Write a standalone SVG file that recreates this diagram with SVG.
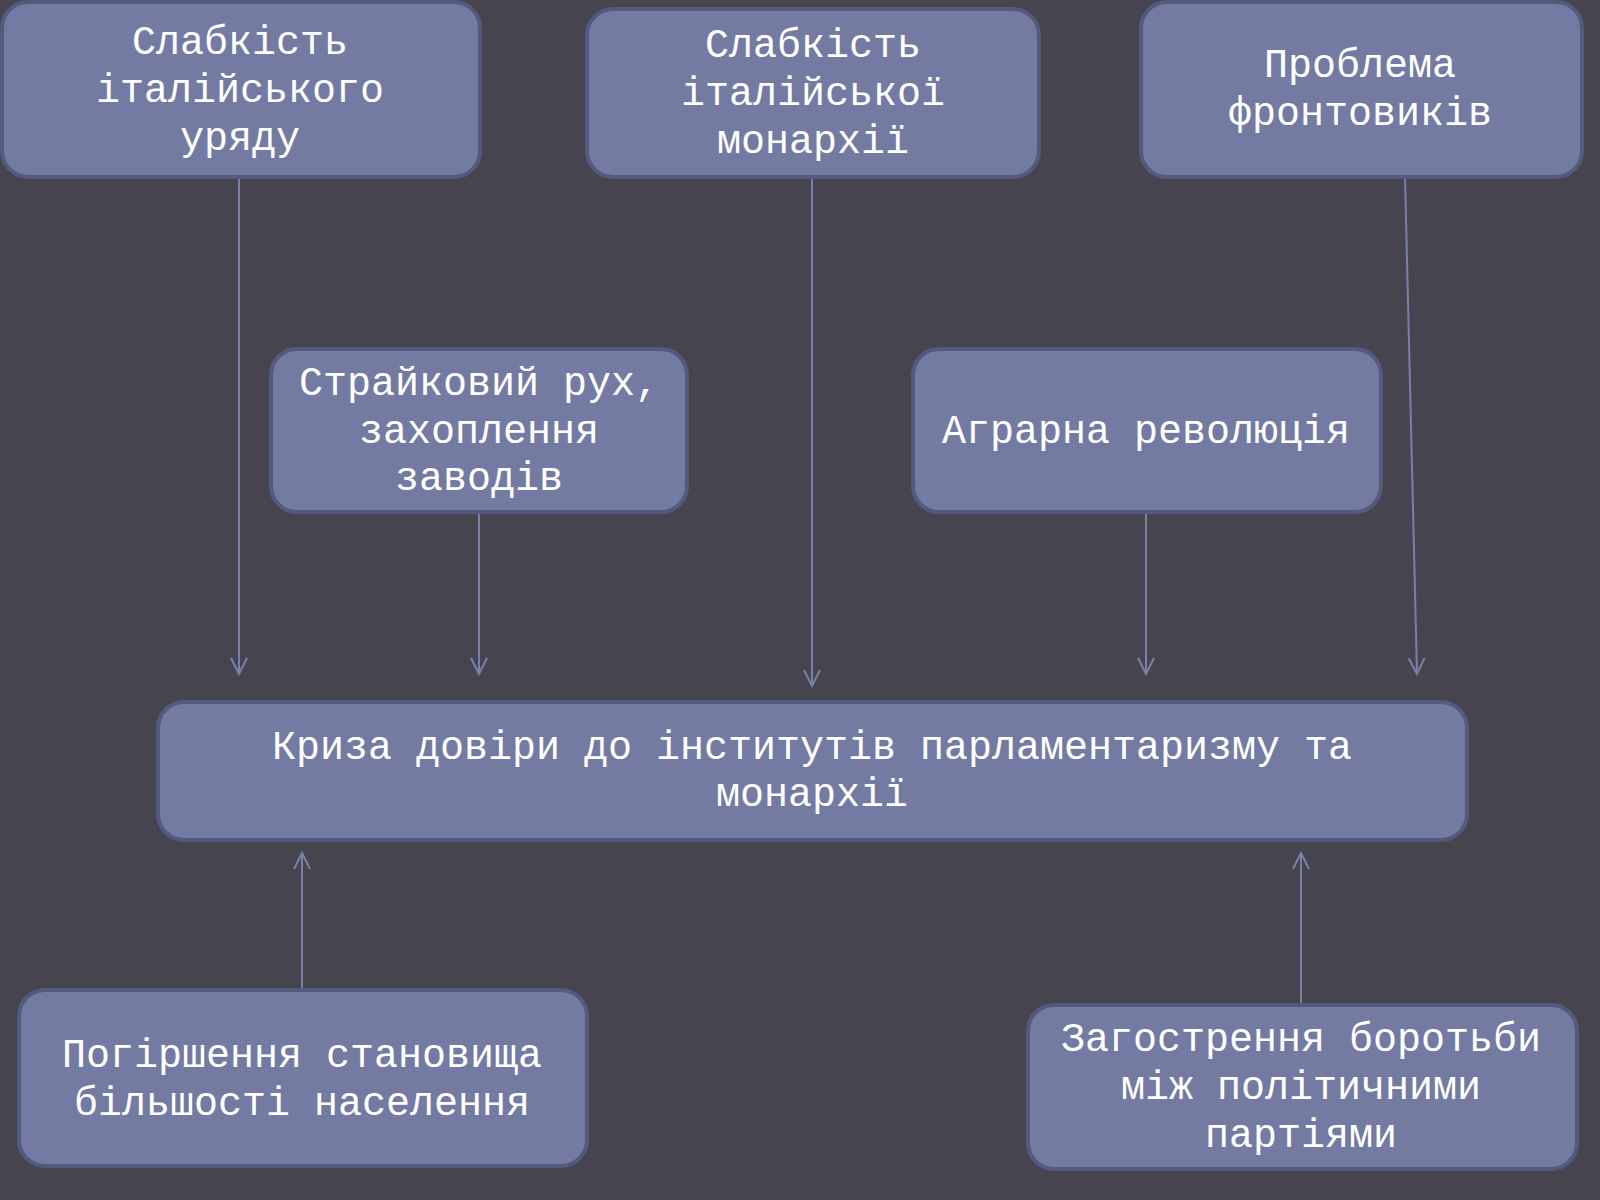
<svg xmlns="http://www.w3.org/2000/svg" width="1600" height="1200" viewBox="0 0 1600 1200">
<defs>
<style>
.box{fill:#737ba3;stroke:#535a7e;stroke-width:4}
.t{font-family:"Courier New","Liberation Mono","DejaVu Sans Mono",monospace;font-size:40px;fill:#ffffff;text-anchor:middle}
.c{stroke:#7880aa;stroke-width:2;fill:none}
</style>
<marker id="arr" viewBox="0 0 20 20" refX="18" refY="10" markerWidth="20" markerHeight="20" markerUnits="userSpaceOnUse" orient="auto">
<path d="M2,2 L18,10 L2,18" fill="none" stroke="#7880aa" stroke-width="2"/>
</marker>
</defs>
<rect width="1600" height="1200" fill="#46454f"/>
<g id="connectors">
<line class="c" x1="239" y1="177" x2="239" y2="674" marker-end="url(#arr)"/>
<line class="c" x1="479" y1="512" x2="479" y2="674" marker-end="url(#arr)"/>
<line class="c" x1="812" y1="177" x2="812" y2="686" marker-end="url(#arr)"/>
<line class="c" x1="1146" y1="512" x2="1146" y2="674" marker-end="url(#arr)"/>
<line class="c" x1="1405" y1="177" x2="1417" y2="674" marker-end="url(#arr)"/>
<line class="c" x1="302" y1="990" x2="302" y2="853" marker-end="url(#arr)"/>
<line class="c" x1="1301" y1="1005" x2="1301" y2="853" marker-end="url(#arr)"/>
</g>
<g id="n1">
<rect class="box" x="2" y="2" width="478" height="175" rx="26"/>
<text class="t" x="240" y="54">Слабкість</text>
<text class="t" x="240" y="102">італійського</text>
<text class="t" x="240" y="150">уряду</text>
</g>
<g id="n2">
<rect class="box" x="587" y="9" width="452" height="168" rx="26"/>
<text class="t" x="813" y="57">Слабкість</text>
<text class="t" x="813" y="105">італійської</text>
<text class="t" x="813" y="153">монархії</text>
</g>
<g id="n3">
<rect class="box" x="1141" y="2" width="441" height="175" rx="26"/>
<text class="t" x="1360" y="77">Проблема</text>
<text class="t" x="1360" y="125">фронтовиків</text>
</g>
<g id="n4">
<rect class="box" x="271" y="349" width="416" height="163" rx="26"/>
<text class="t" x="479" y="395">Страйковий рух,</text>
<text class="t" x="479" y="443">захоплення</text>
<text class="t" x="479" y="490">заводів</text>
</g>
<g id="n5">
<rect class="box" x="913" y="349" width="468" height="163" rx="26"/>
<text class="t" x="1146" y="443">Аграрна революція</text>
</g>
<g id="n6">
<rect class="box" x="158" y="702" width="1309" height="138" rx="26"/>
<text class="t" x="812" y="759">Криза довіри до інститутів парламентаризму та</text>
<text class="t" x="812" y="806">монархії</text>
</g>
<g id="n7">
<rect class="box" x="19" y="990" width="568" height="176" rx="26"/>
<text class="t" x="302" y="1067">Погіршення становища</text>
<text class="t" x="302" y="1115">більшості населення</text>
</g>
<g id="n8">
<rect class="box" x="1028" y="1005" width="549" height="164" rx="26"/>
<text class="t" x="1301" y="1051">Загострення боротьби</text>
<text class="t" x="1301" y="1099">між політичними</text>
<text class="t" x="1301" y="1147">партіями</text>
</g>
</svg>
